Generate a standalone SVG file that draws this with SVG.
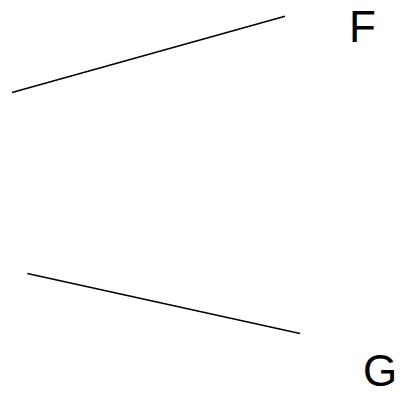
<svg xmlns="http://www.w3.org/2000/svg" width="403" height="396" viewBox="0 0 403 396">
<style>
.edge{stroke:#000;stroke-width:1.5;fill:none}
.lbl{font-family:"Liberation Sans",Arial,sans-serif;font-size:44px;fill:#000}
</style>
<rect width="403" height="396" fill="#fff"/>
<g id="connectors">
<line class="edge" x1="12" y1="92.5" x2="285" y2="16.3"/>
<line class="edge" x1="27.3" y1="273.5" x2="300" y2="333.5"/>
</g>
<g id="node-F"><text class="lbl" x="349" y="42">F</text></g>
<g id="node-G"><text class="lbl" x="363" y="386">G</text></g>
</svg>
